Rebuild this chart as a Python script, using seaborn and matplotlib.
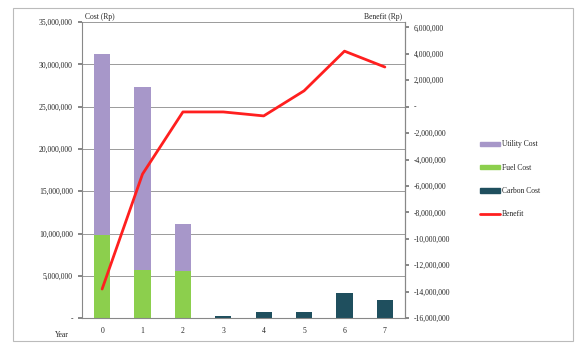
import matplotlib
matplotlib.use("Agg")
import matplotlib.pyplot as plt
import matplotlib.patches as mpatches
from matplotlib.lines import Line2D
from matplotlib.ticker import FuncFormatter
import seaborn as sns
import pandas as pd
import numpy as np

years = [0, 1, 2, 3, 4, 5, 6, 7]
fuel_cost = [9.8e6, 5.7e6, 5.6e6, 0, 0, 0, 0, 0]
utility_cost = [21.4e6, 21.6e6, 5.5e6, 0, 0, 0, 0, 0]
carbon_cost = [0, 0, 0, 0.25e6, 0.75e6, 0.75e6, 3.0e6, 2.1e6]
benefit = [-13.8e6, -5.1e6, -0.4e6, -0.4e6, -0.7e6, 1.2e6, 4.2e6, 3.0e6]

purple = "#a797c9"
green = "#8ccf4d"
teal = "#1f4f5e"
red = "#ff1f1f"

sns.set_theme(style="white")
plt.rcParams["font.family"] = ["Liberation Serif", "DejaVu Serif"]

df = pd.DataFrame({"year": years, "fuel": fuel_cost,
                   "utility": utility_cost, "carbon": carbon_cost})
df["top"] = df["fuel"] + df["utility"] + df["carbon"]
df["mid"] = df["fuel"] + df["carbon"]

fig = plt.figure(figsize=(5.77, 3.45), dpi=100)
ax = fig.add_axes([0.142, 0.078, 0.56, 0.858])

# stacked bars drawn as cumulative layers
sns.barplot(data=df, x="year", y="top", color=purple, width=0.4, saturation=1,
            linewidth=0, ax=ax)
sns.barplot(data=df, x="year", y="mid", color=green, width=0.4, saturation=1,
            linewidth=0, ax=ax)
sns.barplot(data=df, x="year", y="carbon", color=teal, width=0.4, saturation=1,
            linewidth=0, ax=ax)
# carbon sits on top of zero in years where fuel is zero; recolour green layer there
for i, p in enumerate(ax.patches[8:16]):
    if fuel_cost[i] == 0:
        p.set_facecolor(teal)

ax.set_ylim(0, 35e6)
ax.set_yticks(np.arange(0, 35e6 + 1, 5e6))
fmt = FuncFormatter(lambda v, _: "-" if abs(v) < 1 else f"{v:,.0f}")
ax.yaxis.set_major_formatter(fmt)
ax.yaxis.grid(True, color="#9a9a9a", lw=0.7)
ax.set_axisbelow(True)
ax.set_xlabel("")
ax.set_ylabel("")
ax.tick_params(axis="both", labelsize=5.5, length=3, color="#777777", direction="out")
ax.tick_params(axis="y", left=True)
ax.spines["top"].set_visible(False)
for s in ["left", "right", "bottom"]:
    ax.spines[s].set_color("#888888")
    ax.spines[s].set_linewidth(0.8)

ax2 = ax.twinx()
sns.lineplot(x=years, y=benefit, color=red, lw=2, ax=ax2)
ax2.set_ylim(-16e6, 6.4e6)
ax2.set_yticks(np.arange(-16e6, 6e6 + 1, 2e6))
ax2.yaxis.set_major_formatter(fmt)
ax2.tick_params(axis="y", labelsize=5.5, length=3, color="#777777", right=True)
for s in ["top", "left", "bottom"]:
    ax2.spines[s].set_visible(False)
ax2.spines["right"].set_color("#888888")
ax2.spines["right"].set_linewidth(0.8)
ax.set_xlim(-0.5, 7.5)

ax.text(0.01, 1.005, "Cost (Rp)", transform=ax.transAxes, fontsize=5.5, va="bottom")
ax.text(0.99, 1.005, "Benefit (Rp)", transform=ax.transAxes, fontsize=5.5,
        va="bottom", ha="right")
ax.text(-0.04, -0.045, "Year", transform=ax.transAxes, fontsize=5.5, va="top", ha="right")

handles = [mpatches.Patch(color=purple, label="Utility Cost"),
           mpatches.Patch(color=green, label="Fuel Cost"),
           mpatches.Patch(color=teal, label="Carbon Cost"),
           Line2D([0], [0], color=red, lw=2, label="Benefit")]
fig.legend(handles=handles, loc="center left", bbox_to_anchor=(0.82, 0.48),
           frameon=False, fontsize=5.5, handlelength=2.6, handleheight=0.5,
           labelspacing=2.0, handletextpad=0.3)

fig.add_artist(mpatches.Rectangle((0.023, 0.012), 0.97, 0.965, transform=fig.transFigure,
                                  fill=False, edgecolor="#bbbbbb", lw=0.8))

fig.savefig("out.png", dpi=100)
